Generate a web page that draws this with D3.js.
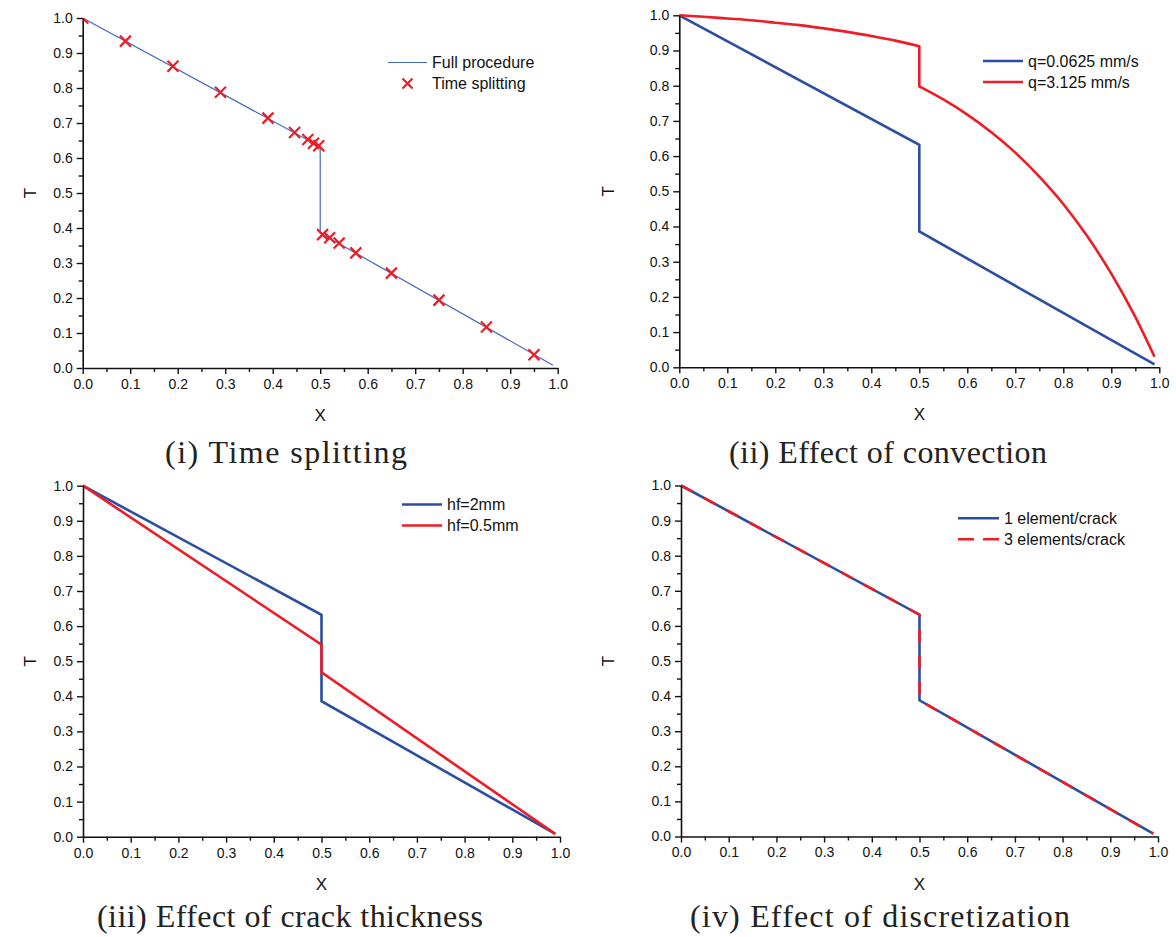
<!DOCTYPE html>
<html><head><meta charset="utf-8">
<script src="https://cdn.jsdelivr.net/npm/d3@7"></script>
<style>
body{margin:0;background:#fff}
svg text{font-family:"Liberation Sans",Arial,sans-serif}
</style>
</head><body>
<svg id="fig" width="1176" height="937"></svg>
<script>
// Axis ticks shared by all four plots
const majorTicks = [0.0,0.1,0.2,0.3,0.4,0.5,0.6,0.7,0.8,0.9,1.0];
const minorTicks = [0.05,0.15,0.25,0.35,0.45,0.55,0.65,0.75,0.85,0.95];

// (i) Time splitting
const fullX = [0, 0.5, 0.5, 0.99];
const fullT = [1.0, 0.632, 0.386, 0.008];
const splitX = [0, 0.09, 0.19, 0.29, 0.39, 0.446, 0.474, 0.486, 0.497, 0.505, 0.52, 0.54, 0.575, 0.65, 0.75, 0.85, 0.95];
const splitT = [1.0, 0.934, 0.862, 0.788, 0.714, 0.673, 0.653, 0.642, 0.635, 0.381, 0.372, 0.357, 0.329, 0.271, 0.194, 0.117, 0.038];

// (ii) Effect of convection
const qLowX = [0, 0.5, 0.5, 0.99];
const qLowT = [1.0, 0.632, 0.386, 0.008];
const qHighX = [0, 0.05, 0.1, 0.15, 0.2, 0.25, 0.3, 0.35, 0.4, 0.45, 0.5, 0.5, 0.55, 0.6, 0.65, 0.7, 0.75, 0.8, 0.85, 0.9, 0.95, 0.99];
const qHighT = [1.0, 0.996, 0.991, 0.986, 0.979, 0.972, 0.963, 0.953, 0.941, 0.928, 0.912, 0.798, 0.761, 0.718, 0.668, 0.610, 0.542, 0.464, 0.372, 0.266, 0.143, 0.030];

// (iii) Effect of crack thickness
const hf2X = [0, 0.5, 0.5, 0.99];
const hf2T = [1.0, 0.632, 0.386, 0.008];
const hf05X = [0, 0.5, 0.5, 0.99];
const hf05T = [1.0, 0.547, 0.468, 0.008];

// (iv) Effect of discretization
const el1X = [0, 0.5, 0.5, 0.99];
const el1T = [1.0, 0.632, 0.388, 0.008];
const el3X = [0, 0.5, 0.5, 0.99];
const el3T = [1.0, 0.632, 0.388, 0.008];

const BLUE = "#2b4ea3", RED = "#ee1c25", THIN_BLUE = "#4568bb";

const zip = (xs, ys) => xs.map((x, i) => ({x, y: ys[i]}));

const panels = [
  { left: 82.7, top: 18, width: 475, height: 350, titleOff: 47,
    caption: "(i) Time splitting", capX: 286, capY: 463, capW: 242,
    legend: {x: 388, y: 62.5, len: 39},
    series: [
      {name: "Full procedure", kind: "line", data: zip(fullX, fullT), color: THIN_BLUE, width: 1.2},
      {name: "Time splitting", kind: "cross", data: zip(splitX, splitT), color: RED}
    ]},
  { left: 679.3, top: 15.3, width: 480, height: 352, titleOff: 65,
    caption: "(ii) Effect of convection", capX: 888, capY: 463, capW: 318,
    legend: {x: 983, y: 61, len: 40},
    series: [
      {name: "q=0.0625 mm/s", kind: "line", data: zip(qLowX, qLowT), color: BLUE, width: 2.6},
      {name: "q=3.125 mm/s", kind: "line", data: zip(qHighX, qHighT), color: RED, width: 2.6, smooth: true}
    ]},
  { left: 83, top: 485.7, width: 477, height: 351, titleOff: 47,
    caption: "(iii) Effect of crack thickness", capX: 290, capY: 927, capW: 386,
    legend: {x: 402, y: 504.5, len: 40},
    series: [
      {name: "hf=2mm", kind: "line", data: zip(hf2X, hf2T), color: BLUE, width: 2.6},
      {name: "hf=0.5mm", kind: "line", data: zip(hf05X, hf05T), color: RED, width: 2.6}
    ]},
  { left: 681, top: 485.5, width: 477, height: 351, titleOff: 67,
    caption: "(iv) Effect of discretization", capX: 880, capY: 927, capW: 380,
    legend: {x: 958, y: 518.3, len: 41},
    series: [
      {name: "1 element/crack", kind: "line", data: zip(el1X, el1T), color: BLUE, width: 2.6},
      {name: "3 elements/crack", kind: "line", data: zip(el3X, el3T), color: RED, width: 2.6, dash: "13,13", legendDash: "16,9"}
    ]}
];

const svg = d3.select("#fig");

function crossPath(cx, cy, r) {
  return `M${cx - r},${cy - r}L${cx + r},${cy + r}M${cx - r},${cy + r}L${cx + r},${cy - r}`;
}

// Smooth a curve that has vertical jumps: each run of strictly increasing x
// is drawn with a monotone curve, and the runs are joined by straight segments.
function smoothPath(data, x, y) {
  const runs = [];
  let cur = [data[0]];
  for (let i = 1; i < data.length; i++) {
    if (data[i].x === data[i - 1].x) { runs.push(cur); cur = [data[i]]; }
    else cur.push(data[i]);
  }
  runs.push(cur);
  const gen = d3.line().x(d => x(d.x)).y(d => y(d.y)).curve(d3.curveMonotoneX);
  return runs.map((r, i) => {
    const d = gen(r);
    return i === 0 ? d : "L" + d.slice(1);
  }).join("");
}

panels.forEach((p, pi) => {
  const x = d3.scaleLinear().domain([0, 1]).range([p.left, p.left + p.width]);
  const y = d3.scaleLinear().domain([0, 1]).range([p.top + p.height, p.top]);
  const g = svg.append("g");

  const clipId = "clip" + pi;
  svg.append("clipPath").attr("id", clipId).append("rect")
    .attr("x", p.left).attr("y", p.top).attr("width", p.width).attr("height", p.height);

  // data
  p.series.forEach(s => {
    if (s.kind === "line") {
      const lineGen = d3.line().x(d => x(d.x)).y(d => y(d.y));
      g.append("path")
        .datum(s.data)
        .attr("fill", "none")
        .attr("stroke", s.color)
        .attr("stroke-width", s.width)
        .attr("stroke-dasharray", s.dash || null)
        .attr("stroke-linejoin", "miter")
        .attr("d", s.smooth ? smoothPath(s.data, x, y) : lineGen(s.data));
    } else {
      g.append("g").attr("clip-path", `url(#${clipId})`)
        .selectAll("path").data(s.data).join("path")
        .attr("d", d => crossPath(x(d.x), y(d.y), 5.5))
        .attr("stroke", s.color).attr("stroke-width", 2.2).attr("fill", "none");
    }
  });

  // axes
  const styleAxis = sel => {
    sel.selectAll("path.domain").attr("stroke", "#111").attr("stroke-width", 1.6);
    sel.selectAll(".tick line").attr("stroke", "#111").attr("stroke-width", 1.4);
    sel.selectAll(".tick text").attr("fill", "#111").style("font-size", "14px")
      .style("font-family", '"Liberation Sans", Arial, sans-serif');
  };
  const fmt = d3.format(".1f");

  g.append("g").attr("transform", `translate(0,${p.top + p.height})`)
    .call(d3.axisBottom(x).tickValues(minorTicks).tickSize(4).tickFormat(""))
    .call(a => a.select(".domain").remove()).call(styleAxis);
  g.append("g").attr("transform", `translate(${p.left},0)`)
    .call(d3.axisLeft(y).tickValues(minorTicks).tickSize(4).tickFormat(""))
    .call(a => a.select(".domain").remove()).call(styleAxis);

  g.append("g").attr("transform", `translate(0,${p.top + p.height})`)
    .call(d3.axisBottom(x).tickValues(majorTicks).tickSize(6).tickSizeOuter(0).tickPadding(5).tickFormat(fmt))
    .call(styleAxis);
  g.append("g").attr("transform", `translate(${p.left},0)`)
    .call(d3.axisLeft(y).tickValues(majorTicks).tickSize(6).tickSizeOuter(0).tickPadding(4).tickFormat(fmt))
    .call(styleAxis);

  // axis titles
  g.append("text").attr("x", p.left + p.width / 2).attr("y", p.top + p.height + 53)
    .attr("text-anchor", "middle").style("font-size", "17px").attr("fill", "#111").text("X");
  g.append("text")
    .attr("transform", `translate(${p.left - p.titleOff},${p.top + p.height / 2}) rotate(-90)`)
    .attr("text-anchor", "middle").style("font-size", "17px").attr("fill", "#111").text("T");

  // legend
  p.series.forEach((s, i) => {
    const ly = p.legend.y + i * 21;
    if (s.kind === "line") {
      g.append("line").attr("x1", p.legend.x).attr("x2", p.legend.x + p.legend.len)
        .attr("y1", ly).attr("y2", ly).attr("stroke", s.color)
        .attr("stroke-width", s.width).attr("stroke-dasharray", s.legendDash || null);
    } else {
      g.append("path").attr("d", crossPath(p.legend.x + p.legend.len / 2, ly, 5))
        .attr("stroke", s.color).attr("stroke-width", 2.2).attr("fill", "none");
    }
    g.append("text").attr("x", p.legend.x + p.legend.len + 5).attr("y", ly + 5.5)
      .style("font-size", "16px").attr("fill", "#111").text(s.name);
  });

  // caption
  g.append("text").attr("x", p.capX).attr("y", p.capY).attr("text-anchor", "middle")
    .attr("textLength", p.capW).attr("lengthAdjust", "spacing")
    .style("font-family", '"Liberation Serif", "Times New Roman", serif')
    .style("font-size", "32px").attr("fill", "#222").text(p.caption);
});
</script>
</body></html>
